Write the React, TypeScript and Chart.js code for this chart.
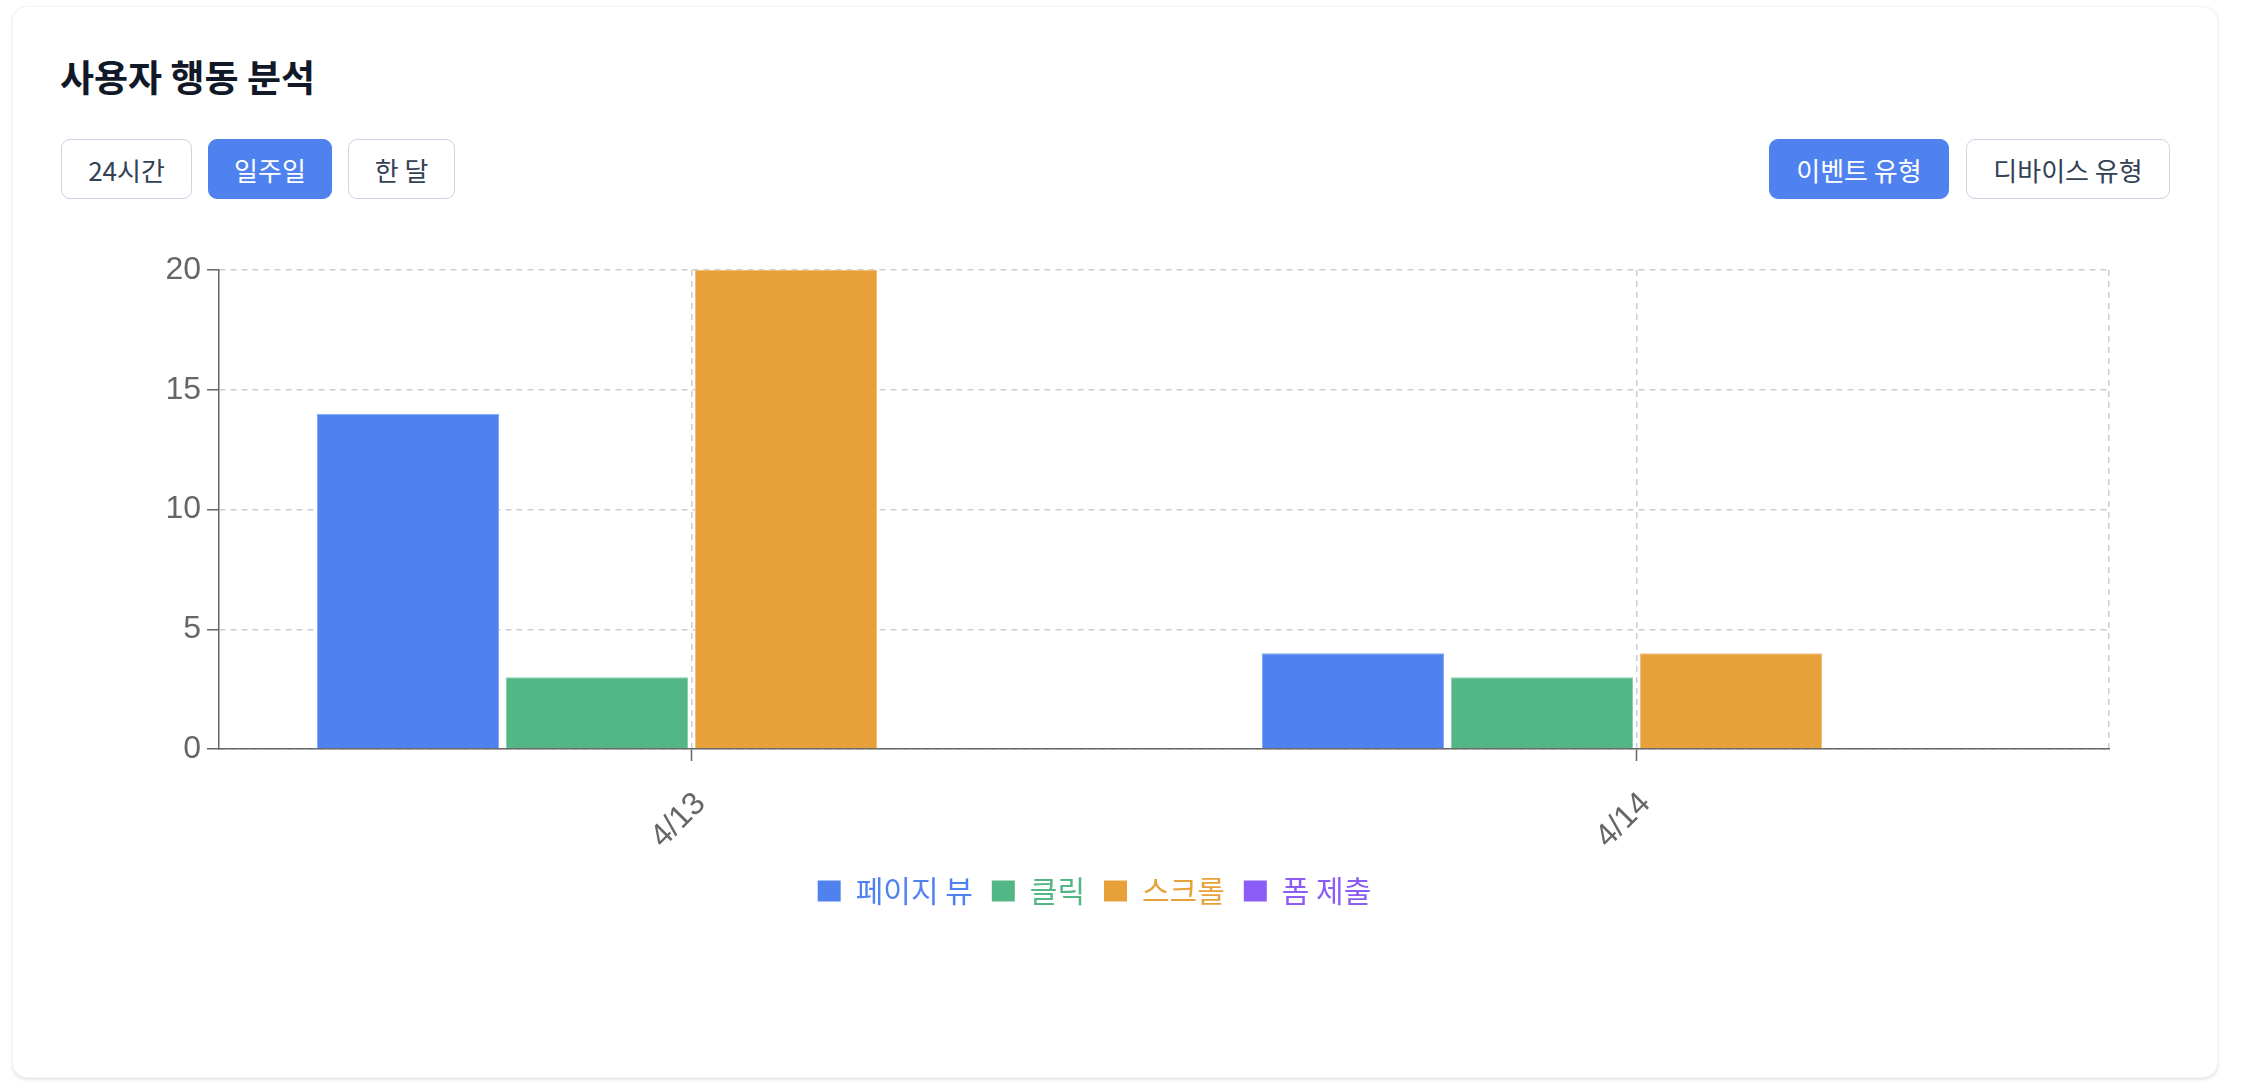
import React, { useEffect, useRef } from 'react';
import { Chart, registerables } from 'chart.js';

Chart.register(...registerables);

// ---- data ----
const categories = ['4/13', '4/14'];
const seriesNames = ['페이지 뷰', '클릭', '스크롤', '폼 제출'];
const pageViews = [14, 4];
const clicks = [3, 3];
const scrolls = [20, 4];
const formSubmits = [0, 0];
const seriesColors = ['#4F82EE', '#53B685', '#E8A13A', '#8B5CF6'];
const seriesBorders = ['#86A8F4', '#8ACFAD', '#F0C07A', '#8B5CF6'];
const yMin = 0;
const yMax = 20;
const yStep = 5;
const rangeButtons = ['24시간', '일주일', '한 달'];
const rangeButtonWidths = [131, 124, 107];
const activeRange = 1;
const typeButtons = ['이벤트 유형', '디바이스 유형'];
const typeButtonWidths = [180, 204];
const activeType = 0;
const title = '사용자 행동 분석';

const seriesValues = [pageViews, clicks, scrolls, formSubmits];

const KR = "'Noto Sans CJK KR', 'Noto Sans', sans-serif";
const TICK_FONT = "'Liberation Sans', 'Noto Sans CJK KR', sans-serif";
const GRID_DASH = [6, 5];

function ChartCanvas() {
  const ref = useRef<HTMLCanvasElement | null>(null);
  useEffect(() => {
    if (!ref.current) return;
    const chart = new Chart(ref.current, {
      type: 'bar',
      data: {
        labels: categories,
        datasets: seriesNames.map((name, i) => ({
          label: name,
          data: seriesValues[i],
          backgroundColor: seriesColors[i],
          borderColor: seriesBorders[i],
          borderWidth: i === 3 ? 0 : 1,
          categoryPercentage: 0.8,
          barPercentage: 0.963,
          xAxisID: 'x',
          yAxisID: 'y',
        })),
      },
      options: {
        animation: false,
        responsive: true,
        maintainAspectRatio: false,
        layout: { padding: { top: 30, left: 20, right: 61, bottom: 0 } },
        plugins: {
          tooltip: { enabled: false },
          legend: {
            position: 'bottom',
            align: 'center',
            labels: {
              boxWidth: 23,
              boxHeight: 21,
              padding: 19,
              font: { family: KR, size: 30 },
              generateLabels: (c: any) =>
                c.data.datasets.map((ds: any, i: number) => ({
                  text: ds.label,
                  fillStyle: ds.backgroundColor,
                  strokeStyle: ds.backgroundColor,
                  lineWidth: 0,
                  fontColor: ds.backgroundColor,
                  hidden: false,
                  datasetIndex: i,
                })),
            },
          },
        },
        scales: {
          x: {
            type: 'category',
            offset: true,
            grid: {
              display: true,
              drawOnChartArea: false,
              offset: false,
              drawTicks: true,
              tickLength: 12,
              tickColor: '#666',
              tickWidth: 1.5,
            },
            border: { display: true, color: '#666', width: 1.5 },
            ticks: {
              color: '#666',
              font: { family: TICK_FONT, size: 32 },
              minRotation: 45,
              maxRotation: 45,
              padding: 24,
              labelOffset: 9,
              autoSkip: false,
            },
            afterFit: (s: any) => {
              s.height = 108;
            },
          },
          x2: {
            type: 'linear',
            position: 'bottom',
            offset: false,
            min: -0.5,
            max: categories.length - 0.5,
            afterBuildTicks: (s: any) => {
              s.ticks = categories
                .map((_, i) => ({ value: i }))
                .concat([{ value: categories.length - 0.5 }]);
            },
            grid: {
              display: true,
              offset: false,
              drawOnChartArea: true,
              drawTicks: false,
              color: '#ccc',
              lineWidth: 1.5,
            },
            border: { display: false, dash: GRID_DASH },
            ticks: { display: false },
          },
          y: {
            type: 'linear',
            min: yMin,
            max: yMax,
            ticks: {
              stepSize: yStep,
              color: '#666',
              font: { family: TICK_FONT, size: 32 },
              padding: 6,
            },
            grid: {
              color: '#ccc',
              lineWidth: 1.5,
              drawTicks: true,
              tickLength: 12,
              tickColor: '#666',
              tickWidth: 1.5,
            },
            border: { display: true, color: '#666', width: 1.5, dash: GRID_DASH },
            afterFit: (s: any) => {
              s.width = 139;
            },
          },
        },
      } as any,
    });
    return () => chart.destroy();
  }, []);
  return <canvas ref={ref} />;
}

function Btn({ label, width, active }: { label: string; width: number; active: boolean }) {
  return (
    <div
      style={{
        width,
        height: 60,
        boxSizing: 'border-box',
        border: active ? '1.5px solid #4F82EE' : '1.5px solid #CBD5E1',
        background: active ? '#4F82EE' : '#fff',
        color: active ? '#fff' : '#334155',
        borderRadius: 9,
        display: 'flex',
        alignItems: 'center',
        justifyContent: 'center',
        fontFamily: KR,
        fontSize: 26,
        whiteSpace: 'nowrap',
      }}
    >
      {label}
    </div>
  );
}

export default function App() {
  return (
    <div
      style={{
        position: 'absolute',
        left: 12,
        top: 6,
        width: 2206,
        height: 1072,
        background: '#fff',
        borderRadius: 15,
        boxShadow: '0 2px 4px rgba(0,0,0,0.08), 0 1px 2px rgba(0,0,0,0.05)',
        border: '1px solid #f4f4f4',
        boxSizing: 'border-box',
      }}
    >
      <div
        style={{
          position: 'absolute',
          left: 47,
          top: 42,
          fontFamily: KR,
          fontWeight: 700,
          fontSize: 37,
          color: '#111827',
          lineHeight: 'normal',
          whiteSpace: 'nowrap',
        }}
      >
        {title}
      </div>
      <div style={{ position: 'absolute', left: 48, top: 132, display: 'flex', gap: 16 }}>
        {rangeButtons.map((b, i) => (
          <Btn key={b} label={b} width={rangeButtonWidths[i]} active={i === activeRange} />
        ))}
      </div>
      <div style={{ position: 'absolute', right: 47, top: 132, display: 'flex', gap: 17 }}>
        {typeButtons.map((b, i) => (
          <Btn key={b} label={b} width={typeButtonWidths[i]} active={i === activeType} />
        ))}
      </div>
      <div style={{ position: 'absolute', left: 47, top: 233, width: 2110, height: 676 }}>
        <ChartCanvas />
      </div>
    </div>
  );
}
